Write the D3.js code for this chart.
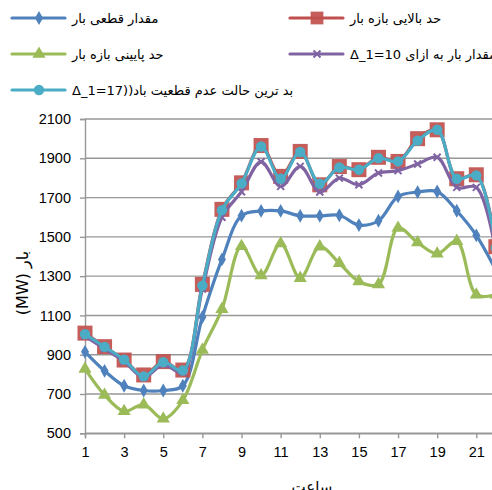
<!DOCTYPE html>
<html>
<head>
<meta charset="utf-8">
<script src="https://cdn.jsdelivr.net/npm/d3@7"></script>
<style>
body { margin: 0; background: #fff; overflow: hidden; }
svg text { font-family: "Liberation Sans", "DejaVu Sans", sans-serif; }
</style>
</head>
<body>
<div id="chart"></div>
<script>
// hours shown on the x axis
var hours = [1,2,3,4,5,6,7,8,9,10,11,12,13,14,15,16,17,18,19,20,21,22];
var xTicks = [1,3,5,7,9,11,13,15,17,19,21];
var yTicks = [500,700,900,1100,1300,1500,1700,1900,2100];

// load values (MW)
var certainLoad = [915,818,742,718,718,742,1092,1385,1608,1632,1632,1607,1607,1610,1560,1582,1706,1728,1731,1633,1508,1330];
var upperBound  = [1010,941,873,797,865,822,1258,1640,1775,1965,1808,1935,1765,1858,1842,1905,1884,2000,2045,1796,1816,1450];
var lowerBound  = [828,695,612,646,574,668,924,1132,1452,1303,1466,1290,1450,1366,1273,1258,1545,1471,1414,1478,1205,1205];
var loadDelta10 = [995,930,865,785,850,810,1235,1600,1730,1882,1757,1859,1728,1799,1765,1825,1837,1871,1905,1752,1752,1420];
var worstWind   = [1005,940,875,790,862,820,1252,1636,1772,1960,1796,1932,1770,1853,1842,1901,1884,1990,2045,1796,1813,1445];

var seriesNames = ["مقدار قطعی بار", "حد بالایی بازه بار", "حد پایینی بازه بار",
                   "مقدار بار به ازای Δ_1=10", "بد ترین حالت عدم قطعیت باد((Δ_1=17"];

var series = [
  {name: seriesNames[0], values: certainLoad, color: "#4F81BD", marker: "diamond"},
  {name: seriesNames[1], values: upperBound,  color: "#C0504D", marker: "square"},
  {name: seriesNames[2], values: lowerBound,  color: "#9BBB59", marker: "triangle"},
  {name: seriesNames[3], values: loadDelta10, color: "#8064A2", marker: "cross"},
  {name: seriesNames[4], values: worstWind,   color: "#4BACC6", marker: "circle"}
];

var W = 492, H = 490;
var margin = {top: 119, left: 85};
var plotW = 450, plotH = 314.3;

var svg = d3.select("#chart").append("svg")
  .attr("width", W).attr("height", H);

var x = d3.scaleLinear().domain([1, 24]).range([margin.left, margin.left + plotW]);
var y = d3.scaleLinear().domain([500, 2100]).range([margin.top + plotH, margin.top]);

// horizontal grid
svg.append("g").selectAll("line")
  .data(yTicks).enter().append("line")
  .attr("x1", margin.left).attr("x2", margin.left + plotW)
  .attr("y1", function(d) { return y(d); }).attr("y2", function(d) { return y(d); })
  .attr("stroke", "#979797").attr("stroke-width", 1.4);

// y axis
var yAxis = svg.append("g")
  .attr("transform", "translate(" + margin.left + ",0)")
  .call(d3.axisLeft(y).tickValues(yTicks).tickFormat(d3.format("d")).tickSize(5).tickPadding(9));
yAxis.select(".domain").attr("stroke", "#979797").attr("stroke-width", 1.4);
yAxis.selectAll(".tick line").attr("stroke", "#979797").attr("stroke-width", 1.4);
yAxis.selectAll("text").style("font-size", "14.5px").attr("fill", "#000");

// x axis
var xAxis = svg.append("g")
  .attr("transform", "translate(0," + (margin.top + plotH) + ")")
  .call(d3.axisBottom(x).tickValues(xTicks).tickSize(5).tickPadding(8));
xAxis.select(".domain").attr("stroke", "#979797").attr("stroke-width", 1.4);
xAxis.selectAll(".tick line").attr("stroke", "#979797").attr("stroke-width", 1.4);
xAxis.selectAll("text").style("font-size", "14.5px").attr("fill", "#000");

// axis titles
svg.append("text")
  .attr("x", x(12.6)).attr("y", 492)
  .attr("text-anchor", "middle").attr("direction", "rtl")
  .style("font-size", "15px").style("font-family", "DejaVu Sans")
  .text("ساعت");

svg.append("text")
  .attr("transform", "translate(28," + 283 + ") rotate(-90)")
  .attr("text-anchor", "middle").attr("direction", "rtl")
  .style("font-size", "16px").style("font-family", "DejaVu Sans")
  .text("بار (MW)");

function drawMarker(g, type, color, cx, cy, scale) {
  if (type == "square") {
    g.append("rect").attr("x", cx - 7.5*scale).attr("y", cy - 7.5*scale)
      .attr("width", 15*scale).attr("height", 15*scale).attr("fill", color).attr("opacity", 0.92);
  } else if (type == "circle") {
    g.append("circle").attr("cx", cx).attr("cy", cy).attr("r", 5.2*scale).attr("fill", color);
  } else if (type == "diamond") {
    g.append("path").attr("d", d3.symbol().type(d3.symbolDiamond).size(55*scale)())
      .attr("transform", "translate(" + cx + "," + cy + ")").attr("fill", color);
  } else if (type == "triangle") {
    g.append("path").attr("d", d3.symbol().type(d3.symbolTriangle).size(75*scale)())
      .attr("transform", "translate(" + cx + "," + cy + ")").attr("fill", color);
  } else if (type == "cross") {
    var s = 3.5*scale;
    g.append("path").attr("d", "M" + (cx-s) + "," + (cy-s) + "L" + (cx+s) + "," + (cy+s) +
        "M" + (cx-s) + "," + (cy+s) + "L" + (cx+s) + "," + (cy-s))
      .attr("stroke", color).attr("stroke-width", 2);
  }
}

var line = d3.line()
  .x(function(d, i) { return x(hours[i]); })
  .y(function(d) { return y(d); })
  .curve(d3.curveCatmullRom.alpha(0.5));

series.forEach(function(s) {
  var g = svg.append("g");
  g.append("path")
    .attr("d", line(s.values))
    .attr("fill", "none")
    .attr("stroke", s.color)
    .attr("stroke-width", 3.2)
    .attr("stroke-linejoin", "round");
  s.values.forEach(function(v, i) {
    drawMarker(g, s.marker, s.color, x(hours[i]), y(v), 1);
  });
});

// legend
var legendPos = [
  {lx: 12, ly: 18}, {lx: 290, ly: 18},
  {lx: 12, ly: 54}, {lx: 290, ly: 54},
  {lx: 12, ly: 90}
];
series.forEach(function(s, i) {
  var p = legendPos[i];
  var g = svg.append("g");
  g.append("line")
    .attr("x1", p.lx).attr("x2", p.lx + 53)
    .attr("y1", p.ly).attr("y2", p.ly)
    .attr("stroke", s.color).attr("stroke-width", 3.2).attr("stroke-linecap", "round");
  drawMarker(g, s.marker, s.color, p.lx + 27, p.ly, s.marker == "square" ? 0.85 : 1);
  g.append("text")
    .attr("x", p.lx + 60).attr("y", p.ly + 5)
    .attr("direction", "rtl").attr("text-anchor", "end")
    .style("font-size", "13px").style("font-family", "DejaVu Sans")
    .text(s.name);
});
</script>
</body>
</html>
